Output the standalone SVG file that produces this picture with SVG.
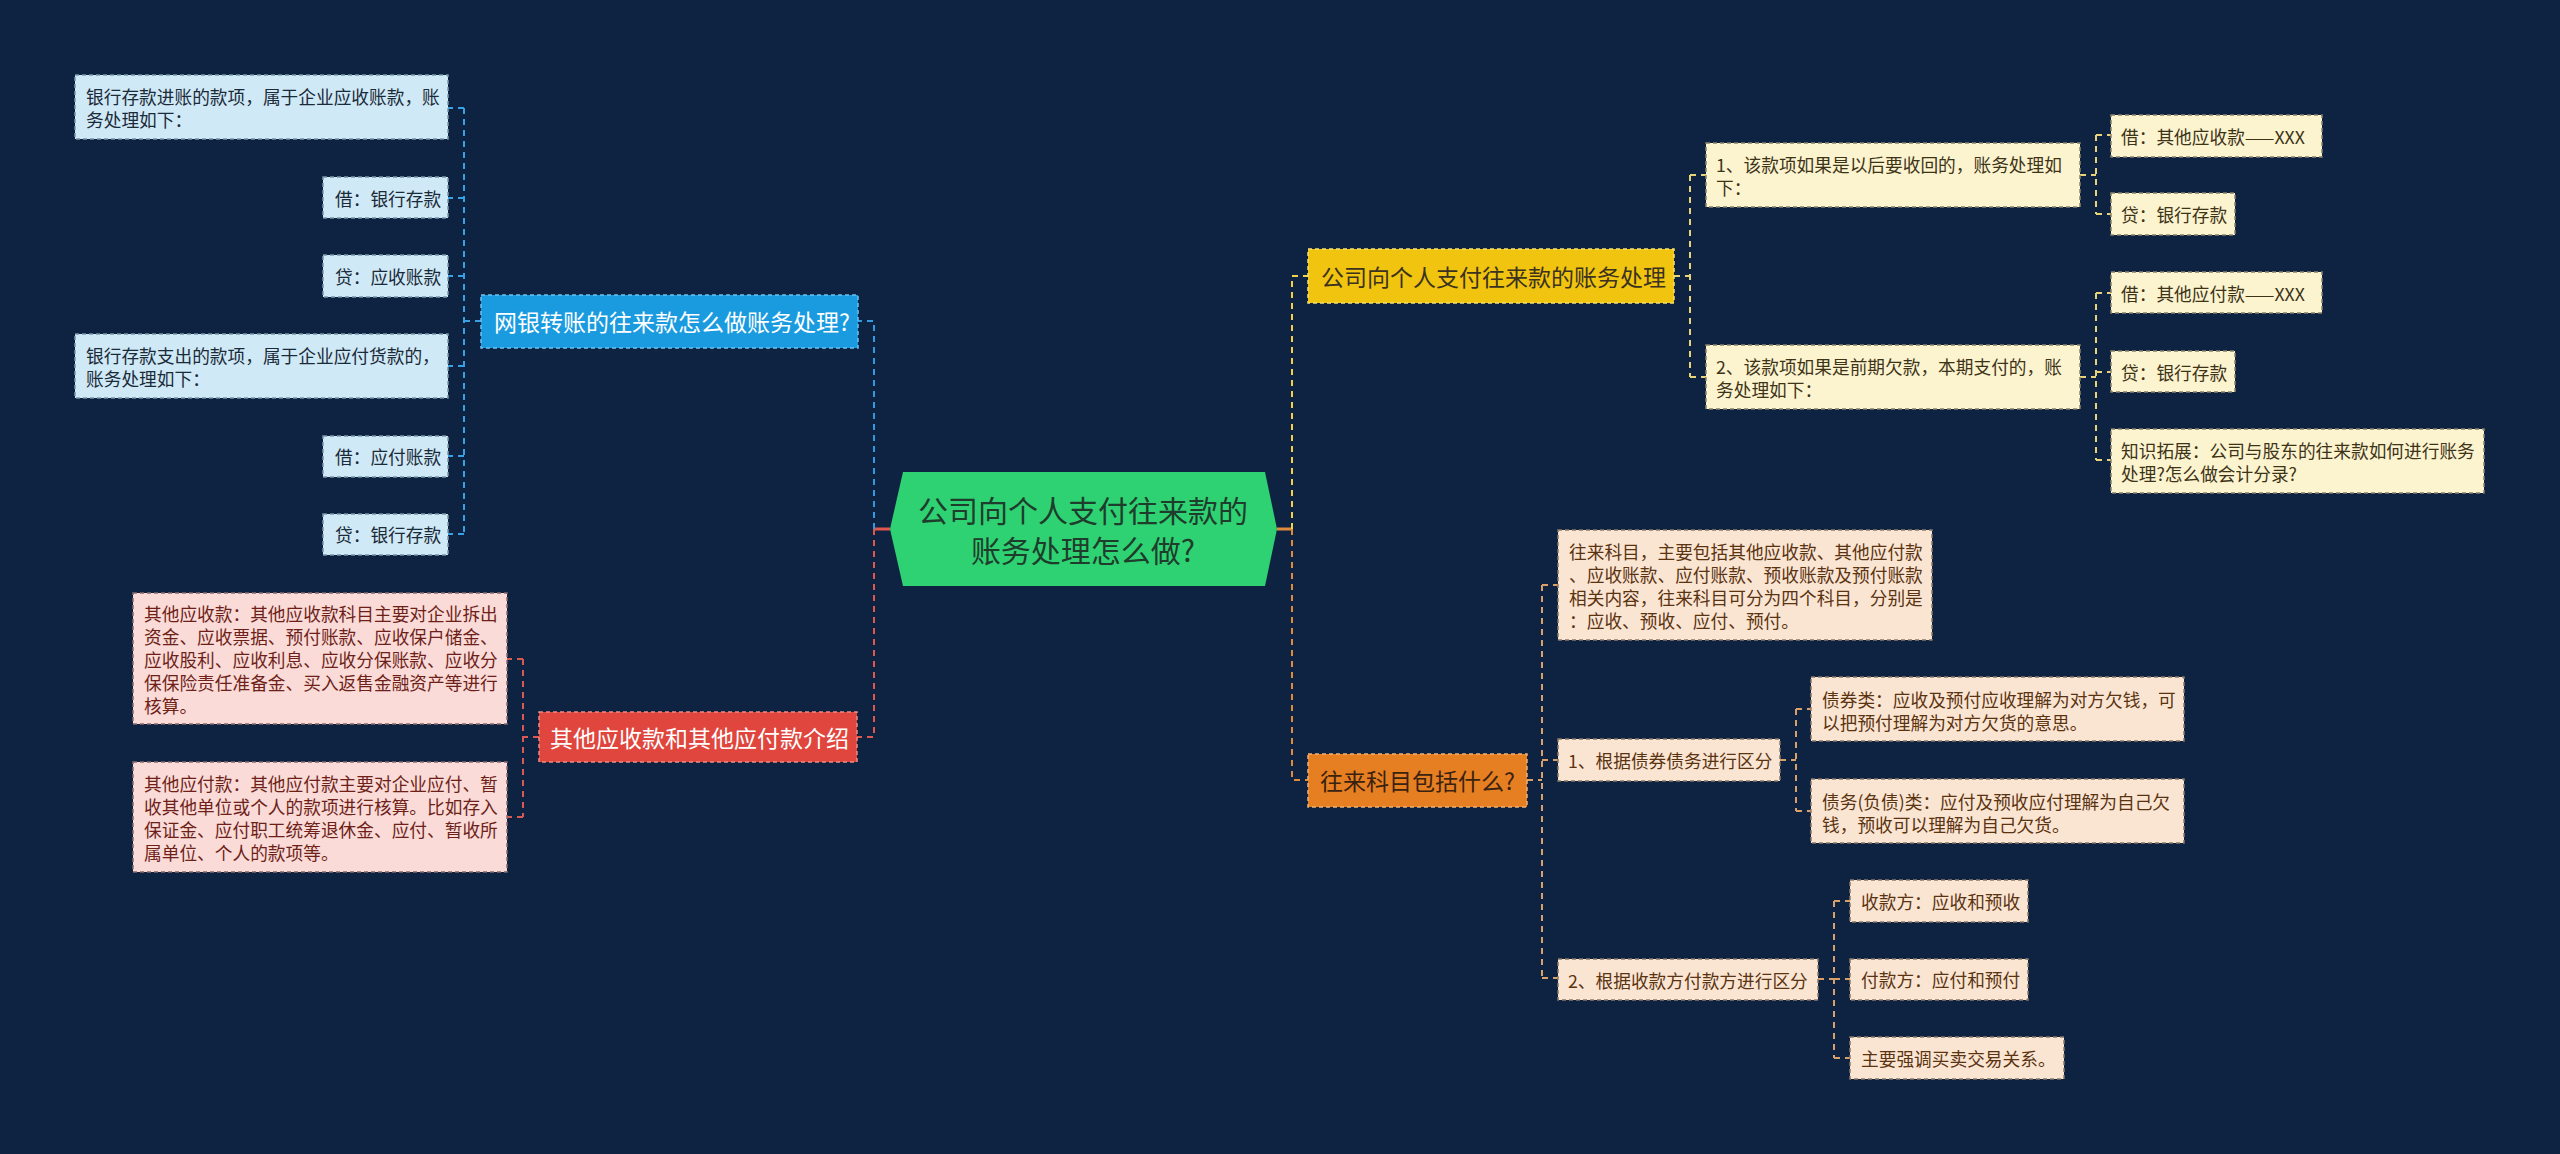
<svg xmlns="http://www.w3.org/2000/svg" width="2560" height="1154" viewBox="0 0 2560 1154">
<style>
text{font-family:'Noto Sans CJK SC','Noto Sans',sans-serif;dominant-baseline:central}
.bg{fill:#0e2241}
.leaf{font-size:17.7px}
.l1{font-size:23px}
.lb rect{fill:#cfe9f6;stroke:#7896a6;stroke-width:1.5;stroke-dasharray:4 3}
.lb text{fill:#1b2a38}
.pk rect{fill:#fadbd8;stroke:#8a6a6a;stroke-width:1.5;stroke-dasharray:4 3}
.pk text{fill:#6e1f18}
.cr rect{fill:#fcf3cf;stroke:#8a826a;stroke-width:1.5;stroke-dasharray:4 3}
.cr text{fill:#3d3418}
.pc rect{fill:#fae5d3;stroke:#8a7868;stroke-width:1.5;stroke-dasharray:4 3}
.pc text{fill:#5a3310}
.c{fill:none;stroke-width:2;stroke-dasharray:6 5}
.cb{stroke:#2f9be0}.cbl{stroke:#3aa0e4}
.cre{stroke:#e0574b}.crl{stroke:#d95a50}
.cy{stroke:#f2d04a}.cyl{stroke:#e8d27a}
.co{stroke:#e08a3c}.col{stroke:#d9a06a}
</style>
<rect class="bg" x="0" y="0" width="2560" height="1154"/>

<g id="connectors">
  <!-- central stubs -->
  <line x1="874" y1="529" x2="890" y2="529" stroke="#e0574b" stroke-width="3"/>
  <line x1="1277" y1="529" x2="1292" y2="529" stroke="#e08a3c" stroke-width="3"/>
  <!-- blue branch -->
  <path class="c cb" d="M874,529 V321 H858"/>
  <!-- red branch -->
  <path class="c cre" d="M874,529 V737 H857"/>
  <!-- yellow branch -->
  <path class="c cy" d="M1292,529 V276 H1308"/>
  <!-- orange branch -->
  <path class="c co" d="M1292,529 V780 H1308"/>

  <!-- blue children -->
  <path class="c cbl" d="M481,321 H464 M464,108 V534 M464,108 H448 M464,198 H448 M464,276 H448 M464,366 H448 M464,456 H448 M464,534 H448"/>
  <!-- red children -->
  <path class="c crl" d="M539,737 H523 M523,659 V817 M523,659 H507 M523,817 H507"/>
  <!-- yellow children -->
  <path class="c cyl" d="M1674,276 H1690 M1690,175 V377 M1690,175 H1706 M1690,377 H1706"/>
  <path class="c cyl" d="M2080,175 H2096 M2096,135 V214 M2096,135 H2111 M2096,214 H2111"/>
  <path class="c cyl" d="M2080,377 H2096 M2096,293 V460 M2096,293 H2111 M2096,372 H2111 M2096,460 H2111"/>
  <!-- orange children -->
  <path class="c col" d="M1527,780 H1542 M1542,585 V978 M1542,585 H1558 M1542,760 H1558 M1542,978 H1558"/>
  <path class="c col" d="M1780,760 H1796 M1796,709 V811 M1796,709 H1811 M1796,811 H1811"/>
  <path class="c col" d="M1818,979 H1834 M1834,901 V1058 M1834,901 H1850 M1834,979 H1850 M1834,1058 H1850"/>
</g>

<!-- central -->
<g id="root">
  <polygon points="890,529 903,472 1265,472 1277,529 1265,586 903,586" fill="#2fd272"/>
  <text x="1083" y="509" font-size="30" text-anchor="middle" fill="#1e3d2c">公司向个人支付往来款的</text>
  <text x="1083" y="549" font-size="30" text-anchor="middle" fill="#1e3d2c">账务处理怎么做?</text>
</g>

<!-- level 1 -->
<g id="n-blue">
  <rect x="481" y="295" width="377" height="53" fill="#1a9be0" stroke="#6cc0f0" stroke-width="1.5" stroke-dasharray="4 3"/>
  <text class="l1" x="494" y="321" fill="#ffffff">网银转账的往来款怎么做账务处理?</text>
</g>
<g id="n-red">
  <rect x="539" y="712" width="318" height="50" fill="#e0463d" stroke="#f08a80" stroke-width="1.5" stroke-dasharray="4 3"/>
  <text class="l1" x="550" y="737" fill="#ffffff">其他应收款和其他应付款介绍</text>
</g>
<g id="n-yellow">
  <rect x="1308" y="249" width="366" height="54" fill="#f1c40f" stroke="#f8e070" stroke-width="1.5" stroke-dasharray="4 3"/>
  <text class="l1" x="1321" y="276" fill="#3b3220">公司向个人支付往来款的账务处理</text>
</g>
<g id="n-orange">
  <rect x="1308" y="754" width="219" height="53" fill="#e67e22" stroke="#f4b070" stroke-width="1.5" stroke-dasharray="4 3"/>
  <text class="l1" x="1320" y="780" fill="#3a2210">往来科目包括什么?</text>
</g>

<!-- blue leaves -->
<g id="b1" class="lb leaf">
  <rect x="75" y="75" width="373" height="64"/>
  <text x="86" y="95.5">银行存款进账的款项，属于企业应收账款，账</text>
  <text x="86" y="118.5">务处理如下：</text>
</g>
<g id="b2" class="lb leaf">
  <rect x="323" y="177" width="125" height="41"/>
  <text x="335" y="198">借：银行存款</text>
</g>
<g id="b3" class="lb leaf">
  <rect x="323" y="255" width="125" height="42"/>
  <text x="335" y="276">贷：应收账款</text>
</g>
<g id="b4" class="lb leaf">
  <rect x="75" y="334" width="373" height="64"/>
  <text x="86" y="354.5">银行存款支出的款项，属于企业应付货款的，</text>
  <text x="86" y="377.5">账务处理如下：</text>
</g>
<g id="b5" class="lb leaf">
  <rect x="323" y="436" width="125" height="41"/>
  <text x="335" y="456">借：应付账款</text>
</g>
<g id="b6" class="lb leaf">
  <rect x="323" y="514" width="125" height="41"/>
  <text x="335" y="534">贷：银行存款</text>
</g>

<!-- red leaves -->
<g id="r1" class="pk leaf">
  <rect x="133" y="593" width="374" height="131"/>
  <text x="144" y="612.5">其他应收款：其他应收款科目主要对企业拆出</text>
  <text x="144" y="635.5">资金、应收票据、预付账款、应收保户储金、</text>
  <text x="144" y="658.5">应收股利、应收利息、应收分保账款、应收分</text>
  <text x="144" y="681.5">保保险责任准备金、买入返售金融资产等进行</text>
  <text x="144" y="704.5">核算。</text>
</g>
<g id="r2" class="pk leaf">
  <rect x="133" y="762" width="374" height="110"/>
  <text x="144" y="782.5">其他应付款：其他应付款主要对企业应付、暂</text>
  <text x="144" y="805.5">收其他单位或个人的款项进行核算。比如存入</text>
  <text x="144" y="828.5">保证金、应付职工统筹退休金、应付、暂收所</text>
  <text x="144" y="851.5">属单位、个人的款项等。</text>
</g>

<!-- yellow children -->
<g id="y1" class="cr leaf">
  <rect x="1706" y="143" width="374" height="64"/>
  <text x="1716" y="164">1、该款项如果是以后要收回的，账务处理如</text>
  <text x="1716" y="187">下：</text>
</g>
<g id="y2" class="cr leaf">
  <rect x="1706" y="345" width="374" height="64"/>
  <text x="1716" y="366">2、该款项如果是前期欠款，本期支付的，账</text>
  <text x="1716" y="389">务处理如下：</text>
</g>
<g id="y1a" class="cr leaf">
  <rect x="2111" y="115" width="211" height="42"/>
  <text x="2121" y="136">借：其他应收款——XXX</text>
</g>
<g id="y1b" class="cr leaf">
  <rect x="2111" y="193" width="124" height="42"/>
  <text x="2121" y="214">贷：银行存款</text>
</g>
<g id="y2a" class="cr leaf">
  <rect x="2111" y="272" width="211" height="41"/>
  <text x="2121" y="293">借：其他应付款——XXX</text>
</g>
<g id="y2b" class="cr leaf">
  <rect x="2111" y="351" width="124" height="41"/>
  <text x="2121" y="372">贷：银行存款</text>
</g>
<g id="y2c" class="cr leaf">
  <rect x="2111" y="429" width="373" height="64"/>
  <text x="2121" y="449.5">知识拓展：公司与股东的往来款如何进行账务</text>
  <text x="2121" y="472.5">处理?怎么做会计分录?</text>
</g>

<!-- orange children -->
<g id="o1" class="pc leaf">
  <rect x="1558" y="530" width="374" height="110"/>
  <text x="1569" y="551">往来科目，主要包括其他应收款、其他应付款</text>
  <text x="1569" y="574">、应收账款、应付账款、预收账款及预付账款</text>
  <text x="1569" y="597">相关内容，往来科目可分为四个科目，分别是</text>
  <text x="1569" y="620">：应收、预收、应付、预付。</text>
</g>
<g id="o2" class="pc leaf">
  <rect x="1558" y="739" width="222" height="42"/>
  <text x="1568" y="760">1、根据债券债务进行区分</text>
</g>
<g id="o2a" class="pc leaf">
  <rect x="1811" y="677" width="373" height="64"/>
  <text x="1822" y="698.5">债券类：应收及预付应收理解为对方欠钱，可</text>
  <text x="1822" y="721.5">以把预付理解为对方欠货的意思。</text>
</g>
<g id="o2b" class="pc leaf">
  <rect x="1811" y="779" width="373" height="64"/>
  <text x="1822" y="800.5">债务(负债)类：应付及预收应付理解为自己欠</text>
  <text x="1822" y="823.5">钱，预收可以理解为自己欠货。</text>
</g>
<g id="o3" class="pc leaf">
  <rect x="1558" y="959" width="260" height="41"/>
  <text x="1568" y="980">2、根据收款方付款方进行区分</text>
</g>
<g id="o3a" class="pc leaf">
  <rect x="1850" y="880" width="178" height="42"/>
  <text x="1861" y="901">收款方：应收和预收</text>
</g>
<g id="o3b" class="pc leaf">
  <rect x="1850" y="959" width="178" height="41"/>
  <text x="1861" y="979">付款方：应付和预付</text>
</g>
<g id="o3c" class="pc leaf">
  <rect x="1850" y="1037" width="214" height="42"/>
  <text x="1861" y="1058">主要强调买卖交易关系。</text>
</g>
</svg>
